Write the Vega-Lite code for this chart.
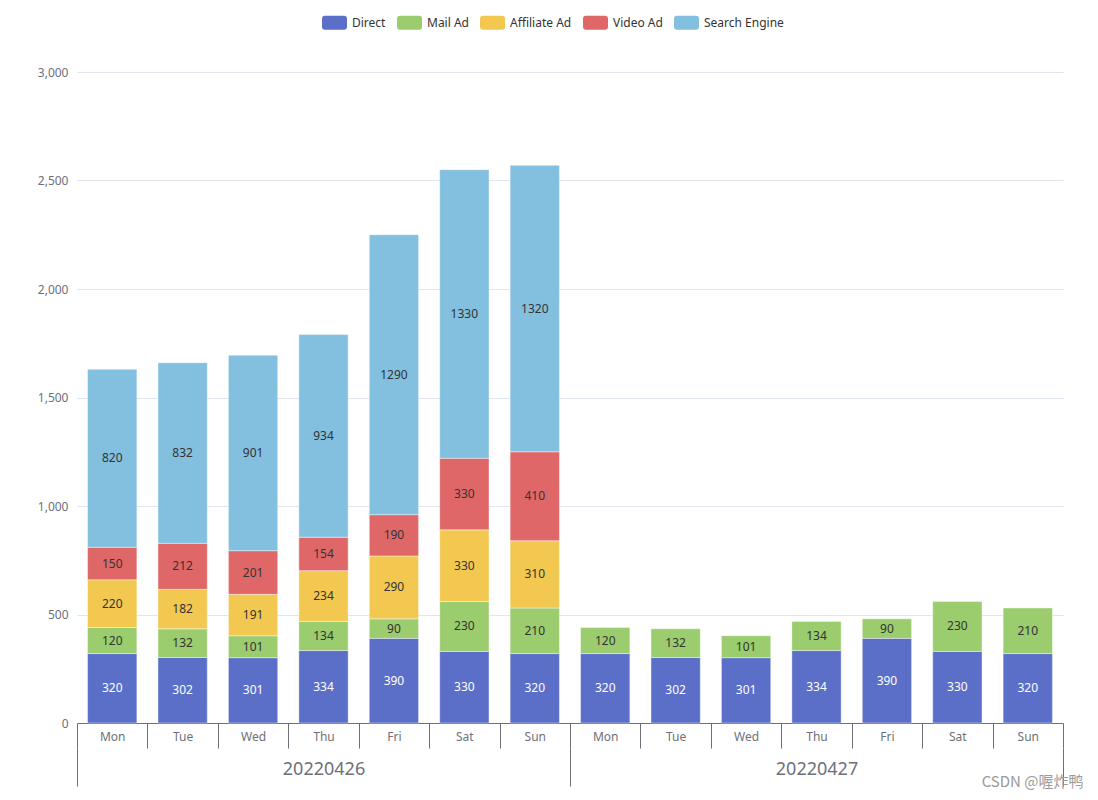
{
  "$schema": "https://vega.github.io/schema/vega-lite/v6.json",
  "width": 986,
  "height": 651,
  "autosize": {"type": "none"},
  "padding": {"left": 77, "top": 72, "right": 35, "bottom": 77},
  "background": "white",
  "config": {
    "view": {"stroke": null},
    "font": "Noto Sans",
    "axis": {"labelFont": "Noto Sans", "titleFont": "Noto Sans"}
  },
  "title": {
    "text": "CSDN @喔炸鸭",
    "orient": "bottom",
    "anchor": "end",
    "font": "Noto Sans CJK SC",
    "fontSize": 15,
    "fontWeight": "normal",
    "color": "#9a9a9a",
    "offset": 0,
    "dx": 20,
    "dy": -12
  },
  "data": {
    "values": [
      {"date": "20220426", "day": "Mon", "key": "20220426 Mon", "series": "Direct", "o": 1, "value": 320},
      {"date": "20220426", "day": "Mon", "key": "20220426 Mon", "series": "Mail Ad", "o": 2, "value": 120},
      {"date": "20220426", "day": "Mon", "key": "20220426 Mon", "series": "Affiliate Ad", "o": 3, "value": 220},
      {"date": "20220426", "day": "Mon", "key": "20220426 Mon", "series": "Video Ad", "o": 4, "value": 150},
      {"date": "20220426", "day": "Mon", "key": "20220426 Mon", "series": "Search Engine", "o": 5, "value": 820},
      {"date": "20220426", "day": "Tue", "key": "20220426 Tue", "series": "Direct", "o": 1, "value": 302},
      {"date": "20220426", "day": "Tue", "key": "20220426 Tue", "series": "Mail Ad", "o": 2, "value": 132},
      {"date": "20220426", "day": "Tue", "key": "20220426 Tue", "series": "Affiliate Ad", "o": 3, "value": 182},
      {"date": "20220426", "day": "Tue", "key": "20220426 Tue", "series": "Video Ad", "o": 4, "value": 212},
      {"date": "20220426", "day": "Tue", "key": "20220426 Tue", "series": "Search Engine", "o": 5, "value": 832},
      {"date": "20220426", "day": "Wed", "key": "20220426 Wed", "series": "Direct", "o": 1, "value": 301},
      {"date": "20220426", "day": "Wed", "key": "20220426 Wed", "series": "Mail Ad", "o": 2, "value": 101},
      {"date": "20220426", "day": "Wed", "key": "20220426 Wed", "series": "Affiliate Ad", "o": 3, "value": 191},
      {"date": "20220426", "day": "Wed", "key": "20220426 Wed", "series": "Video Ad", "o": 4, "value": 201},
      {"date": "20220426", "day": "Wed", "key": "20220426 Wed", "series": "Search Engine", "o": 5, "value": 901},
      {"date": "20220426", "day": "Thu", "key": "20220426 Thu", "series": "Direct", "o": 1, "value": 334},
      {"date": "20220426", "day": "Thu", "key": "20220426 Thu", "series": "Mail Ad", "o": 2, "value": 134},
      {"date": "20220426", "day": "Thu", "key": "20220426 Thu", "series": "Affiliate Ad", "o": 3, "value": 234},
      {"date": "20220426", "day": "Thu", "key": "20220426 Thu", "series": "Video Ad", "o": 4, "value": 154},
      {"date": "20220426", "day": "Thu", "key": "20220426 Thu", "series": "Search Engine", "o": 5, "value": 934},
      {"date": "20220426", "day": "Fri", "key": "20220426 Fri", "series": "Direct", "o": 1, "value": 390},
      {"date": "20220426", "day": "Fri", "key": "20220426 Fri", "series": "Mail Ad", "o": 2, "value": 90},
      {"date": "20220426", "day": "Fri", "key": "20220426 Fri", "series": "Affiliate Ad", "o": 3, "value": 290},
      {"date": "20220426", "day": "Fri", "key": "20220426 Fri", "series": "Video Ad", "o": 4, "value": 190},
      {"date": "20220426", "day": "Fri", "key": "20220426 Fri", "series": "Search Engine", "o": 5, "value": 1290},
      {"date": "20220426", "day": "Sat", "key": "20220426 Sat", "series": "Direct", "o": 1, "value": 330},
      {"date": "20220426", "day": "Sat", "key": "20220426 Sat", "series": "Mail Ad", "o": 2, "value": 230},
      {"date": "20220426", "day": "Sat", "key": "20220426 Sat", "series": "Affiliate Ad", "o": 3, "value": 330},
      {"date": "20220426", "day": "Sat", "key": "20220426 Sat", "series": "Video Ad", "o": 4, "value": 330},
      {"date": "20220426", "day": "Sat", "key": "20220426 Sat", "series": "Search Engine", "o": 5, "value": 1330},
      {"date": "20220426", "day": "Sun", "key": "20220426 Sun", "series": "Direct", "o": 1, "value": 320},
      {"date": "20220426", "day": "Sun", "key": "20220426 Sun", "series": "Mail Ad", "o": 2, "value": 210},
      {"date": "20220426", "day": "Sun", "key": "20220426 Sun", "series": "Affiliate Ad", "o": 3, "value": 310},
      {"date": "20220426", "day": "Sun", "key": "20220426 Sun", "series": "Video Ad", "o": 4, "value": 410},
      {"date": "20220426", "day": "Sun", "key": "20220426 Sun", "series": "Search Engine", "o": 5, "value": 1320},
      {"date": "20220427", "day": "Mon", "key": "20220427 Mon", "series": "Direct", "o": 1, "value": 320},
      {"date": "20220427", "day": "Mon", "key": "20220427 Mon", "series": "Mail Ad", "o": 2, "value": 120},
      {"date": "20220427", "day": "Tue", "key": "20220427 Tue", "series": "Direct", "o": 1, "value": 302},
      {"date": "20220427", "day": "Tue", "key": "20220427 Tue", "series": "Mail Ad", "o": 2, "value": 132},
      {"date": "20220427", "day": "Wed", "key": "20220427 Wed", "series": "Direct", "o": 1, "value": 301},
      {"date": "20220427", "day": "Wed", "key": "20220427 Wed", "series": "Mail Ad", "o": 2, "value": 101},
      {"date": "20220427", "day": "Thu", "key": "20220427 Thu", "series": "Direct", "o": 1, "value": 334},
      {"date": "20220427", "day": "Thu", "key": "20220427 Thu", "series": "Mail Ad", "o": 2, "value": 134},
      {"date": "20220427", "day": "Fri", "key": "20220427 Fri", "series": "Direct", "o": 1, "value": 390},
      {"date": "20220427", "day": "Fri", "key": "20220427 Fri", "series": "Mail Ad", "o": 2, "value": 90},
      {"date": "20220427", "day": "Sat", "key": "20220427 Sat", "series": "Direct", "o": 1, "value": 330},
      {"date": "20220427", "day": "Sat", "key": "20220427 Sat", "series": "Mail Ad", "o": 2, "value": 230},
      {"date": "20220427", "day": "Sun", "key": "20220427 Sun", "series": "Direct", "o": 1, "value": 320},
      {"date": "20220427", "day": "Sun", "key": "20220427 Sun", "series": "Mail Ad", "o": 2, "value": 210}
    ]
  },
  "layer": [
    {
      "encoding": {
        "x": {
          "field": "key",
          "type": "nominal",
          "scale": {
            "domain": ["20220426 Mon", "20220426 Tue", "20220426 Wed", "20220426 Thu", "20220426 Fri", "20220426 Sat", "20220426 Sun", "20220427 Mon", "20220427 Tue", "20220427 Wed", "20220427 Thu", "20220427 Fri", "20220427 Sat", "20220427 Sun"],
            "paddingInner": 0,
            "paddingOuter": 0
          },
          "axis": {
            "orient": "bottom",
            "title": null,
            "labelAngle": 0,
            "labelExpr": "split(datum.label, ' ')[1]",
            "labelFontSize": 12,
            "labelColor": "#6e7079",
            "labelPadding": -17,
            "labelBaseline": "top",
            "tickBand": "extent",
            "tickSize": 25,
            "tickColor": "#6e7079",
            "domainColor": "#6e7079",
            "grid": false
          }
        }
      },
      "layer": [
        {
          "mark": {"type": "bar", "width": {"band": 0.7}, "stroke": "white", "strokeWidth": 0.7, "strokeOpacity": 0.6},
          "encoding": {
            "y": {
              "field": "value",
              "type": "quantitative",
              "stack": "zero",
              "scale": {"domain": [0, 3000], "nice": false},
              "axis": {
                "title": null,
                "values": [0, 500, 1000, 1500, 2000, 2500, 3000],
                "format": ",d",
                "domain": false,
                "ticks": false,
                "labelFontSize": 12,
                "labelColor": "#6e7079",
                "labelPadding": 9,
                "gridColor": "#e0e6f1",
                "gridWidth": 1
              }
            },
            "order": {"field": "o", "type": "quantitative"},
            "color": {
              "field": "series",
              "type": "nominal",
              "scale": {
                "domain": ["Direct", "Mail Ad", "Affiliate Ad", "Video Ad", "Search Engine"],
                "range": ["#5b6fc8", "#9bcc6d", "#f2c850", "#e06767", "#83bfdf"]
              },
              "legend": {
                "orient": "none",
                "legendX": 245,
                "legendY": -62,
                "direction": "horizontal",
                "title": null,
                "symbolType": "M-0.76,-0.56 L0.76,-0.56 Q1,-0.56 1,-0.32 L1,0.32 Q1,0.56 0.76,0.56 L-0.76,0.56 Q-1,0.56 -1,0.32 L-1,-0.32 Q-1,-0.56 -0.76,-0.56 Z",
                "symbolSize": 625,
                "symbolStrokeWidth": 0,
                "symbolOpacity": 1,
                "labelFontSize": 12,
                "labelColor": "#333333",
                "labelFont": "Noto Sans",
                "labelOffset": 5,
                "columnPadding": 11
              }
            }
          }
        },
        {
          "mark": {"type": "text", "fontSize": 12, "font": "Noto Sans", "baseline": "middle"},
          "encoding": {
            "y": {"field": "value", "type": "quantitative", "stack": "zero", "bandPosition": 0.5},
            "detail": {"field": "series"},
            "order": {"field": "o", "type": "quantitative"},
            "text": {"field": "value", "type": "quantitative"},
            "color": {"condition": {"test": "datum.series === 'Direct'", "value": "white"}, "value": "#333333"}
          }
        }
      ]
    },
    {
      "mark": {"type": "point", "opacity": 0},
      "encoding": {
        "x": {
          "field": "date",
          "type": "nominal",
          "scale": {"paddingInner": 0, "paddingOuter": 0},
          "axis": {
            "orient": "bottom",
            "offset": 25,
            "title": null,
            "labelAngle": 0,
            "labelFontSize": 18,
            "labelColor": "#6e7079",
            "labelPadding": -26,
            "labelBaseline": "top",
            "tickBand": "extent",
            "tickSize": 38,
            "tickColor": "#6e7079",
            "domain": false,
            "grid": false
          }
        }
      }
    }
  ],
  "resolve": {"scale": {"x": "independent"}, "axis": {"x": "independent"}}
}
